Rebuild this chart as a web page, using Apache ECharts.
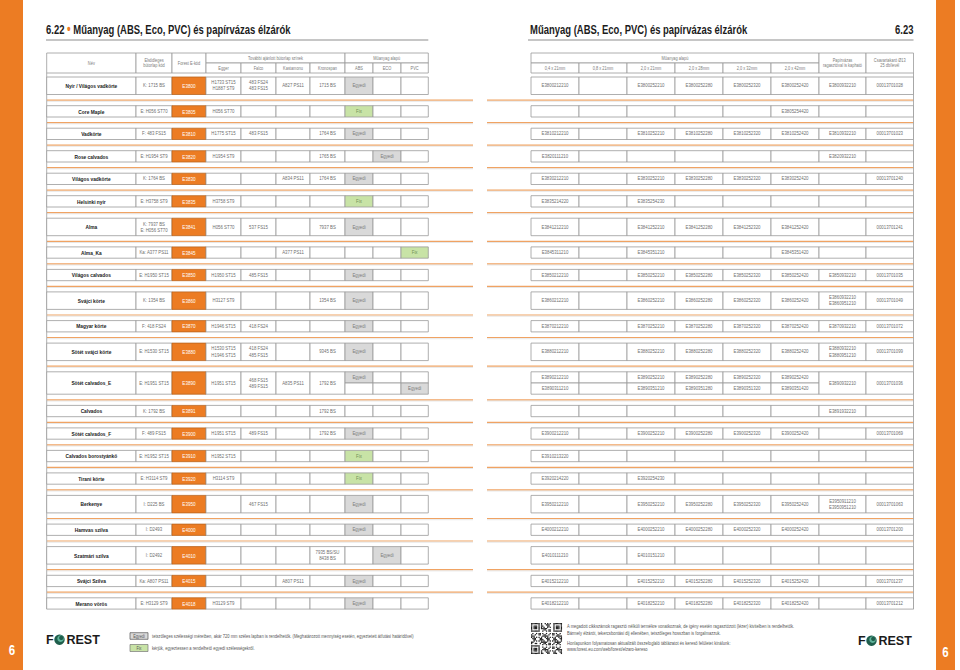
<!DOCTYPE html>
<html><head><meta charset="utf-8">
<script src="https://cdn.jsdelivr.net/npm/echarts@6/dist/echarts.min.js"></script>
<style>html,body{margin:0;padding:0;background:#fff}#c{width:960px;height:670px}</style>
</head><body><div id="c"></div>
<script>
// ---------- DATA ----------
const leftHeaders = ['Név', 'Elsődleges\nbútorlap kód', 'Forest E-kód'];
const boardGroupHeader = 'További ajánlott bútorlap színek';
const boardHeaders = ['Egger', 'Falco', 'Kastamonu', 'Kronospan'];
const plasticGroupHeader = 'Műanyag alapú';
const plasticHeaders = ['ABS', 'ECO', 'PVC'];
const sizeHeaders = ['0,4 x 21mm', '0,8 x 21mm', '2,0 x 21mm', '2,0 x 28mm', '2,0 x 32mm', '2,0 x 42mm'];
const paperHeader = 'Papírvázas\nragasztóval is kapható';
const coverHeader = 'Csavartakaró Ø13\n25 db/levél';

const names = ['Nyír / Világos vadkörte','Core Maple','Vadkörte','Rose calvados','Világos vadkörte','Helsinki nyír','Alma','Alma_Ka','Világos calvados','Svájci körte','Magyar körte','Sötét svájci körte','Sötét calvados_E','Calvados','Sötét calvados_F','Calvados borostyánkő','Tirani körte','Berkenye','Hamvas szilva','Szatmári szilva','Svájci Szilva','Merano vörös'];
const primaryCodes = ['K: 1715 BS','E: H056 ST70','F: 483 FS15','E: H1954 ST9','K: 1764 BS','E: H3758 ST9','K: 7937 BS\nE: H056 ST70','Ka: A377 PS11','E: H1950 ST15','K: 1354 BS','F: 418 FS24','E: H1530 ST15','E: H1951 ST15','K: 1792 BS','F: 489 FS15','E: H1952 ST15','E: H3114 ST9','I: D225 BS','I: D2493','I: D2492','Ka: A807 PS11','E: H3129 ST9'];
const eCodes = ['E3800','E3805','E3810','E3820','E3830','E3835','E3841','E3845','E3850','E3860','E3870','E3880','E3890','E3891','E3900','E3910','E3920','E3950','E4000','E4010','E4015','E4018'];
const eggerCodes = ['H1733 ST15\nH1887 ST9','H056 ST70','H1775 ST15','H1954 ST9','','H3758 ST9','H056 ST70','','H1950 ST15','H3127 ST9','H1946 ST15','H1530 ST15\nH1946 ST15','H1951 ST15','','H1951 ST15','H1952 ST15','H3114 ST9','','','','','H3129 ST9'];
const falcoCodes = ['483 FS24\n483 FS15','','483 FS15','','','','537 FS15','','485 FS15','','418 FS24','418 FS24\n485 FS15','468 FS15\n489 FS15','','489 FS15','','','467 FS15','','','',''];
const kastamonuCodes = ['A827 PS11','','','','A834 PS11','','','A377 PS11','','','','','A835 PS11','','','','','','','','A807 PS11',''];
const kronospanCodes = ['1715 BS','','1764 BS','1765 BS','1764 BS','','7937 BS','','','1354 BS','','9345 BS','1792 BS','1792 BS','1792 BS','','','','','7935 BS/SU\n8438 BS','',''];
const absValues = ['Egyedi','Fix','Egyedi','','Egyedi','Fix','Egyedi','','Egyedi','Egyedi','Egyedi','Egyedi',['Egyedi',''],'','Egyedi','Fix','Fix','Egyedi','Egyedi','','Egyedi','Egyedi'];
const ecoValues = ['','','','Egyedi','','','','','','','','',['',''],'','','','','','','Egyedi','',''];
const pvcValues = ['','','','','','','','Fix','','','','',['','Egyedi'],'','','','','','','','',''];

const codes04x21 = ['E3800212210','','E3810212210','E3820111210','E3830212210','E3835214220','E3841212210','E3845311210','E3850212210','E3860212210','E3870212210','E3880212210',['E3890212210','E3890311210'],'','E3900212210','E3910213220','E3920214220','E3950212210','E4000212210','E4010111210','E4015212210','E4018212210'];
const codes08x21 = ['','','','','','','','','','','','',['',''],'','','','','','','','',''];
const codes20x21 = ['E3800252210','','E3810252210','','E3830252210','E3835254230','E3841252210','E3845351210','E3850252210','E3860252210','E3870252210','E3880252210',['E3890252210','E3890351210'],'','E3900252210','','E3920254230','E3950252210','E4000252210','E4010151210','E4015252210','E4018252210'];
const codes20x28 = ['E3800252280','','E3810252280','','E3830252280','','E3841252280','','E3850252280','E3860252280','E3870252280','E3880252280',['E3890252280','E3890351280'],'','E3900252280','','','E3950252280','E4000252280','','E4015252280','E4018252280'];
const codes20x32 = ['E3800252320','','E3810252320','','E3830252320','','E3841252320','','E3850252320','E3860252320','E3870252320','E3880252320',['E3890252320','E3890351320'],'','E3900252320','','','E3950252320','E4000252320','','E4015252320','E4018252320'];
const codes20x42 = ['E3800252420','E3805254420','E3810252420','','E3830252420','','E3841252420','E3845351420','E3850252420','E3860252420','E3870252420','E3880252420',['E3890252420','E3890351420'],'','E3900252420','','','E3950252420','E4000252420','','E4015252420','E4018252420'];
const paperCodes = ['E3800932210','','E3810932210','E3820932210','','','','','E3850932210','E3860932210\nE3860951210','E3870932210','E3880932210\nE3880951210','E3890932210','E3891932210','','','','E3950911210\nE3950951210','','','',''];
const coverCodes = ['00013701028','','00013701023','','00013701240','','00013701241','','00013701035','00013701049','00013701072','00013701099','00013701036','','00013701069','','','00013701063','00013701200','','00013701237','00013701212'];

const titleLeftNo = '6.22';
const titleText = 'Műanyag (ABS, Eco, PVC) és papírvázas élzárók';
const titleRightNo = '6.23';
const pageNo = '6';
const legendEgyedi = 'tetszőleges szélességi méretben, akár 720 mm széles lapban is rendelhetők. (Meghatározott mennyiség esetén, egyeztetett átfutási határidővel)';
const legendFix = 'kérjük, egyeztessen a rendelhető egyedi szélességekről.';
const footNotes = ['A megadott cikkszámok ragasztó nélküli termékre vonatkoznak, de igény esetén ragasztózott (lézer) kivitelben is rendelhetők.',
  'Bármely élzárót, tekercsbontási díj ellenében, tetszőleges hosszban is forgalmazzuk.',
  'Honlapunkon folyamatosan aktualizált összefoglaló táblázatot és kereső felületet kínálunk:',
  'www.forest.eu.com/web/forest/elzaro-kereso'];

// ---------- LAYOUT / STYLE ----------
const FONT = '"Liberation Sans", Arial, sans-serif';
const SX = 0.82;              // horizontal squeeze -> narrow face
const ORANGE = '#ec7c23';
const BORDER = '#9b9b9b';
const TXT = '#6e6e6e';
const L_COLS = [46.7,136,172,206,241,276,310,345,373,401,428.3];
const R_COLS = [531,579,627,675,723,771,819,866,913.5];
const H1 = 11.3, H2 = 17.5, H3 = 22.4, GAP = 11.2, TOP0 = 77;

function leftRow(i){ return [names[i],primaryCodes[i],eCodes[i],eggerCodes[i],falcoCodes[i],kastamonuCodes[i],kronospanCodes[i],absValues[i],ecoValues[i],pvcValues[i]]; }
function rightRow(i){ return [codes04x21[i],codes08x21[i],codes20x21[i],codes20x28[i],codes20x32[i],codes20x42[i],paperCodes[i],coverCodes[i]]; }
const rowTop = [], rowBot = [];
(function(){
  let y = TOP0;
  for (let i = 0; i < names.length; i++) {
    const cells = leftRow(i).concat(rightRow(i));
    let h = H1;
    if (cells.some(c => Array.isArray(c))) h = H3;
    else if (cells.some(c => typeof c === 'string' && c.indexOf('\n') >= 0)) h = H2;
    rowTop.push(y); rowBot.push(y + h); y += h + GAP;
  }
})();

function rectEl(api, x0, y0, x1, y1, fill, stroke, lw){
  const a = api.coord([x0, y0]), b = api.coord([x1, y1]);
  return {type:'rect', shape:{x:a[0], y:a[1], width:b[0]-a[0], height:b[1]-a[1]},
    style:{fill:fill||'#fff', stroke:stroke||BORDER, lineWidth:lw||0.8}};
}
function textEl(api, xc, yc, text, size, fill, weight, lh){
  const p = api.coord([xc, yc]);
  return {type:'text', x:p[0], y:p[1], scaleX:SX, style:{x:0, y:0, text:text, font:(weight||'normal')+' '+size+'px '+FONT,
    fill:fill||TXT, align:'center', verticalAlign:'middle', lineHeight:lh||size*1.15}};
}
function lineEl(api, x0, y0, x1, y1, color, lw){
  const a = api.coord([x0, y0]), b = api.coord([x1, y1]);
  return {type:'line', shape:{x1:a[0], y1:a[1], x2:b[0], y2:b[1]}, style:{stroke:color, lineWidth:lw}};
}
function valueCell(api, kids, x0, x1, y0, y1, v, isMat){
  let fill = '#fff', col = TXT;
  if (isMat && v === 'Egyedi') { fill = '#d9d9d9'; col = '#7a7a7a'; }
  if (isMat && v === 'Fix') { fill = '#c8e3a6'; col = '#6f8f55'; }
  kids.push(rectEl(api, x0, y0, x1, y1, fill));
  if (v) kids.push(textEl(api, (x0+x1)/2, (y0+y1)/2, v, 5.3, col));
}

function renderLeft(params, api){
  const i = api.value(0), kids = [];
  const y0 = rowTop[i], y1 = rowBot[i], cells = leftRow(i);
  cells.forEach((v, j) => {
    const x0 = L_COLS[j], x1 = L_COLS[j+1];
    if (j === 0) { kids.push(rectEl(api, x0, y0, x1, y1)); kids.push(textEl(api, (x0+x1)/2, (y0+y1)/2, v, 5.9, '#1a1a1a', 'bold')); return; }
    if (j === 2) { kids.push(rectEl(api, x0, y0, x1, y1, ORANGE, '#b9651f')); kids.push(textEl(api, (x0+x1)/2, (y0+y1)/2, v, 5.6, '#fff')); return; }
    if (Array.isArray(v)) {
      const ym = (y0+y1)/2;
      valueCell(api, kids, x0, x1, y0, ym, v[0], j >= 7);
      valueCell(api, kids, x0, x1, ym, y1, v[1], j >= 7);
    } else valueCell(api, kids, x0, x1, y0, y1, v, j >= 7);
  });
  return {type:'group', children:kids};
}
function renderRight(params, api){
  const i = api.value(0), kids = [];
  const y0 = rowTop[i], y1 = rowBot[i], cells = rightRow(i);
  cells.forEach((v, j) => {
    const x0 = R_COLS[j], x1 = R_COLS[j+1];
    if (Array.isArray(v)) {
      const ym = (y0+y1)/2;
      valueCell(api, kids, x0, x1, y0, ym, v[0], false);
      valueCell(api, kids, x0, x1, ym, y1, v[1], false);
    } else valueCell(api, kids, x0, x1, y0, y1, v, false);
  });
  return {type:'group', children:kids};
}
function renderSeparators(params, api){
  const i = api.value(0);
  const y = (rowBot[i] + rowTop[i+1]) / 2;
  return {type:'group', children:[
    lineEl(api, 47, y, 473, y, '#f0a363', 1.2),
    lineEl(api, 47, y+1.2, 473, y+1.2, '#d6d6d6', 0.6),
    lineEl(api, 487, y, 913.5, y, '#f0a363', 1.2),
    lineEl(api, 487, y+1.2, 913.5, y+1.2, '#d6d6d6', 0.6)
  ]};
}
function renderHeader(params, api){
  const kids = [], HS = 4.8, HC = '#7b7b7b';
  const t = 53, m = 63, b = 73;
  for (let j = 0; j < 3; j++) {
    kids.push(rectEl(api, L_COLS[j], t, L_COLS[j+1], b));
    kids.push(textEl(api, (L_COLS[j]+L_COLS[j+1])/2, (t+b)/2, leftHeaders[j], HS, HC, 'normal', 5.6));
  }
  kids.push(rectEl(api, L_COLS[3], t, L_COLS[7], m));
  kids.push(textEl(api, (L_COLS[3]+L_COLS[7])/2, (t+m)/2, boardGroupHeader, HS, HC));
  boardHeaders.forEach((h, k) => { kids.push(rectEl(api, L_COLS[3+k], m, L_COLS[4+k], b)); kids.push(textEl(api, (L_COLS[3+k]+L_COLS[4+k])/2, (m+b)/2, h, HS, HC)); });
  kids.push(rectEl(api, L_COLS[7], t, L_COLS[10], m));
  kids.push(textEl(api, (L_COLS[7]+L_COLS[10])/2, (t+m)/2, plasticGroupHeader, HS, HC));
  plasticHeaders.forEach((h, k) => { kids.push(rectEl(api, L_COLS[7+k], m, L_COLS[8+k], b)); kids.push(textEl(api, (L_COLS[7+k]+L_COLS[8+k])/2, (m+b)/2, h, HS, HC)); });
  kids.push(rectEl(api, R_COLS[0], t, R_COLS[6], m));
  kids.push(textEl(api, (R_COLS[0]+R_COLS[6])/2, (t+m)/2, plasticGroupHeader, HS, HC));
  sizeHeaders.forEach((h, k) => { kids.push(rectEl(api, R_COLS[k], m, R_COLS[k+1], b)); kids.push(textEl(api, (R_COLS[k]+R_COLS[k+1])/2, (m+b)/2, h, HS, HC)); });
  kids.push(rectEl(api, R_COLS[6], t, R_COLS[7], b));
  kids.push(textEl(api, (R_COLS[6]+R_COLS[7])/2, (t+b)/2, paperHeader, HS, HC, 'normal', 5.6));
  kids.push(rectEl(api, R_COLS[7], t, R_COLS[8], b));
  kids.push(textEl(api, (R_COLS[7]+R_COLS[8])/2, (t+b)/2, coverHeader, HS, HC, 'normal', 5.6));
  const last = rowBot[rowBot.length-1];
  kids.push(lineEl(api, L_COLS[0], b, L_COLS[0], last, BORDER, 0.8));
  kids.push(lineEl(api, R_COLS[8], b, R_COLS[8], last, BORDER, 0.8));
  return {type:'group', children:kids};
}

// ---------- decorations ----------
function gtext(x, y, text, font, fill, align, sx, extra){
  const st = Object.assign({x:0, y:0, text:text, font:font, fill:fill, align:align||'left', verticalAlign:'middle'}, extra||{});
  return {type:'text', x:x, y:y, scaleX:sx||SX, style:st};
}
function logo(x, y){
  const f = 'bold 12.5px "Liberation Sans", Arial, sans-serif';
  return {type:'group', x:x, y:y, children:[
    {type:'text', style:{x:0, y:0, text:'F', font:f, fill:'#1b1b1b', verticalAlign:'middle'}},
    {type:'circle', shape:{cx:13.5, cy:0.2, r:5.2}, style:{fill:'#1f5e4c'}},
    {type:'circle', shape:{cx:14.6, cy:-0.9, r:3.3}, style:{fill:'#5fb39a'}},
    {type:'circle', shape:{cx:15.3, cy:-1.6, r:2.2}, style:{fill:'#1f5e4c'}},
    {type:'text', style:{x:20.5, y:0, text:'REST', font:f, fill:'#1b1b1b', verticalAlign:'middle'}}
  ]};
}
function qr(x, y, s){
  const n = 25, m = s / n, kids = [];
  const finder = (r, c) => {
    const inF = (fr, fc) => r >= fr && r < fr + 7 && c >= fc && c < fc + 7;
    const chk = (fr, fc) => { const a = r - fr, b = c - fc; return a === 0 || a === 6 || b === 0 || b === 6 || (a >= 2 && a <= 4 && b >= 2 && b <= 4); };
    if (inF(0,0)) return chk(0,0) ? 1 : 0;
    if (inF(0,n-7)) return chk(0,n-7) ? 1 : 0;
    if (inF(n-7,0)) return chk(n-7,0) ? 1 : 0;
    if (r === 7 && c < 8 || c === 7 && r < 8 || r === 7 && c > n-9 || c === n-8 && r < 8 || r === n-8 && c < 8 || c === 7 && r > n-9) return 0;
    return -1;
  };
  for (let r = 0; r < n; r++) for (let c = 0; c < n; c++) {
    let on = finder(r, c);
    if (on < 0) on = ((r * 31 + c * 17 + r * c * 7) % 11) < 5 ? 1 : 0;
    if (on) kids.push({type:'rect', shape:{x:x + c*m, y:y + r*m, width:m+0.05, height:m+0.05}, style:{fill:'#222'}});
  }
  return {type:'group', children:kids};
}

const TF = 'bold 12.8px ' + FONT, TSX = 0.74;
const FN = '5px ' + FONT;
const graphics = [
  {type:'rect', shape:{x:0, y:0, width:23, height:670}, style:{fill:ORANGE}},
  {type:'rect', shape:{x:936, y:0, width:19, height:670}, style:{fill:ORANGE}},
  gtext(12, 650, pageNo, 'bold 14px '+FONT, '#fff', 'center'),
  gtext(945.5, 652, pageNo, 'bold 14px '+FONT, '#fff', 'center'),
  gtext(46, 29, '{a|'+titleLeftNo+' }{d|•}{a| '+titleText+'}', TF, '#1c1c1c', 'left', TSX,
    {rich:{a:{font:TF, fill:'#1c1c1c'}, d:{font:'bold 14px '+FONT, fill:ORANGE}}}),
  gtext(530, 29, titleText, TF, '#1c1c1c', 'left', TSX),
  gtext(913.5, 29, titleRightNo, TF, '#1c1c1c', 'right', TSX),
  {type:'line', shape:{x1:46, y1:40, x2:428.3, y2:40}, style:{stroke:'#b3b3b3', lineWidth:1.5}},
  {type:'line', shape:{x1:528, y1:40, x2:913.5, y2:40}, style:{stroke:'#b3b3b3', lineWidth:1.5}},
  logo(46, 639.5),
  logo(858, 640.5),
  {type:'rect', shape:{x:130, y:632.7, width:18, height:6.6}, style:{fill:'#d9d9d9', stroke:'#555', lineWidth:0.7}},
  gtext(139, 636, 'Egyedi', '4.6px '+FONT, '#555', 'center'),
  {type:'rect', shape:{x:130, y:644.5, width:18, height:7}, style:{fill:'#c8e3a6', stroke:'#777', lineWidth:0.7}},
  gtext(139, 648, 'Fix', '4.6px '+FONT, '#555', 'center'),
  gtext(152, 636, legendEgyedi, FN, '#555'),
  gtext(152, 648, legendFix, FN, '#555'),
  qr(531, 623, 31),
  gtext(567, 626, footNotes[0], FN, '#555'),
  gtext(567, 633, footNotes[1], FN, '#555'),
  gtext(567, 643, footNotes[2], FN, '#555'),
  gtext(567, 649.5, footNotes[3], FN, '#555')
];

const chart = echarts.init(document.getElementById('c'), null, {renderer:'svg', width:960, height:670});
const rowIdx = names.map((n, i) => [i, 0]);
chart.setOption({
  backgroundColor:'#fff',
  animation:false,
  grid:{left:0, right:0, top:0, bottom:0},
  xAxis:{type:'value', min:0, max:960, show:false},
  yAxis:{type:'value', min:0, max:670, inverse:true, show:false},
  series:[
    {type:'custom', renderItem:renderSeparators, data:rowIdx.slice(0, -1), clip:false, silent:true},
    {type:'custom', renderItem:renderHeader, data:[[0, 0]], clip:false, silent:true},
    {type:'custom', renderItem:renderLeft, data:rowIdx, clip:false, silent:true},
    {type:'custom', renderItem:renderRight, data:rowIdx, clip:false, silent:true}
  ],
  graphic:graphics
});
</script></body></html>
